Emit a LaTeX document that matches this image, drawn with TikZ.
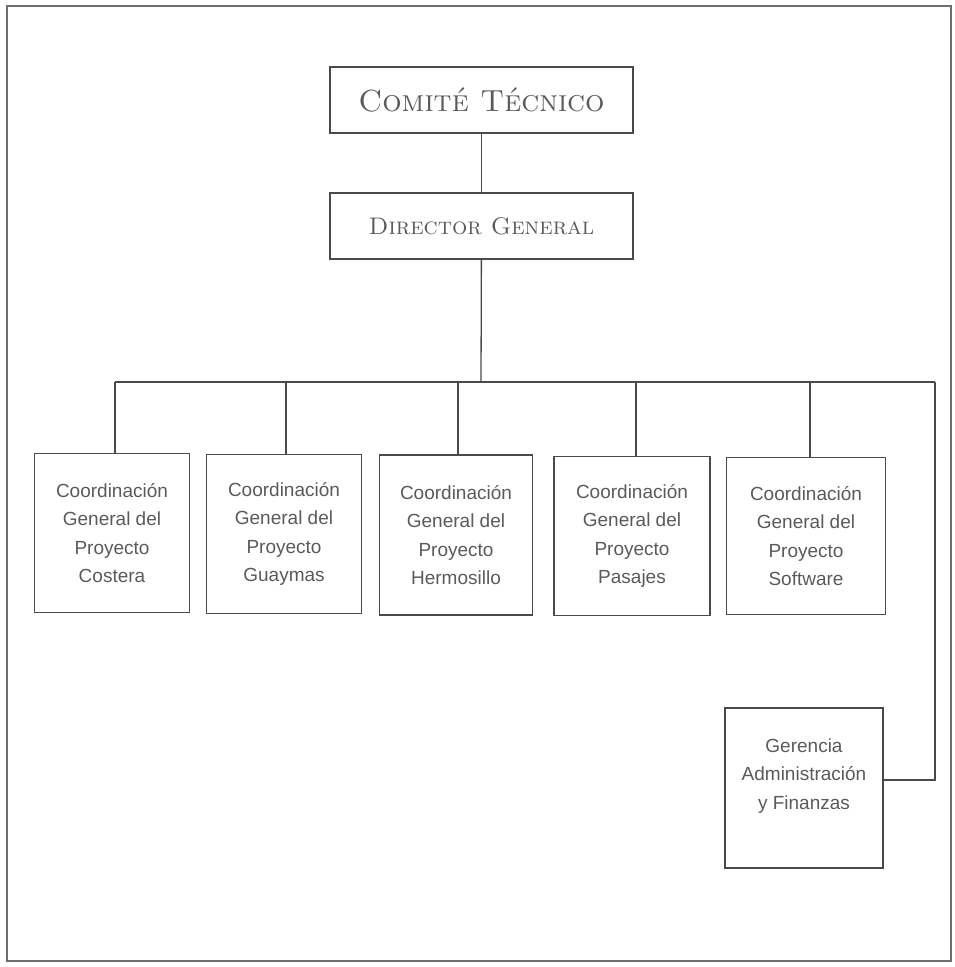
\documentclass[tikz,border=0pt]{standalone}
\usepackage{fontspec}
\setsansfont{Liberation Sans}
\definecolor{ln}{HTML}{4A4A4A}
\definecolor{tx}{HTML}{5A5A5A}
\begin{document}
\begin{tikzpicture}[x=1pt,y=-1pt,
  conn/.style={draw=ln,line width=1.3pt},
  topbox/.style={draw=ln,line width=1.3pt,minimum width=303pt,minimum height=66pt,inner sep=0pt,text=tx},
  cgbox/.style={draw=ln,line width=1.2pt,minimum width=155pt,minimum height=159pt,inner sep=0pt,align=center,text=tx,
     font=\sffamily\fontsize{19}{28.5}\selectfont}]
\useasboundingbox (0,0) rectangle (955,967);
\draw[draw=ln!80,line width=1.5pt] (7,6) rectangle (951,961);

\node[topbox,font=\fontsize{30.5}{34}\selectfont] (comite) at (481.5,100) {\textsc{Comité Técnico}};
\node[topbox,font=\fontsize{24}{27}\selectfont] (dir) at (481.5,226) {\textsc{Director General}};

\node[cgbox] (cost) at (112,533) {Coordinación\\General del\\Proyecto\\Costera};
\node[cgbox] (guay) at (284,534) {Coordinación\\General del\\Proyecto\\Guaymas};
\node[cgbox,minimum width=153pt,minimum height=160pt] (herm) at (456,535) {Coordinación\\General del\\Proyecto\\Hermosillo};
\node[cgbox,minimum width=156pt] (pasa) at (632,536) {Coordinación\\General del\\Proyecto\\Pasajes};
\node[cgbox,minimum width=159pt,minimum height=157pt] (soft) at (806,536) {Coordinación\\General del\\Proyecto\\Software};
\node[cgbox,minimum width=158pt,minimum height=160pt] (ger) at (804,788) {Gerencia\\Administración\\y Finanzas\\\mbox{}};

\coordinate (bc) at (481,382);
\coordinate (b1) at (115,382);
\coordinate (b2) at (286,382);
\coordinate (b3) at (458,382);
\coordinate (b4) at (636,382);
\coordinate (b5) at (810,382);
\coordinate (br) at (935,382);

\draw[conn] (comite) -- (dir);
\draw[conn] (dir) -- (bc);
\draw[conn] (b1) -- (br);
\draw[conn] (b1) -- (b1 |- cost.north);
\draw[conn] (b2) -- (b2 |- guay.north);
\draw[conn] (b3) -- (b3 |- herm.north);
\draw[conn] (b4) -- (b4 |- pasa.north);
\draw[conn] (b5) -- (b5 |- soft.north);
\draw[conn] (br) |- ([yshift=8pt]ger.east);
\end{tikzpicture}
\end{document}
